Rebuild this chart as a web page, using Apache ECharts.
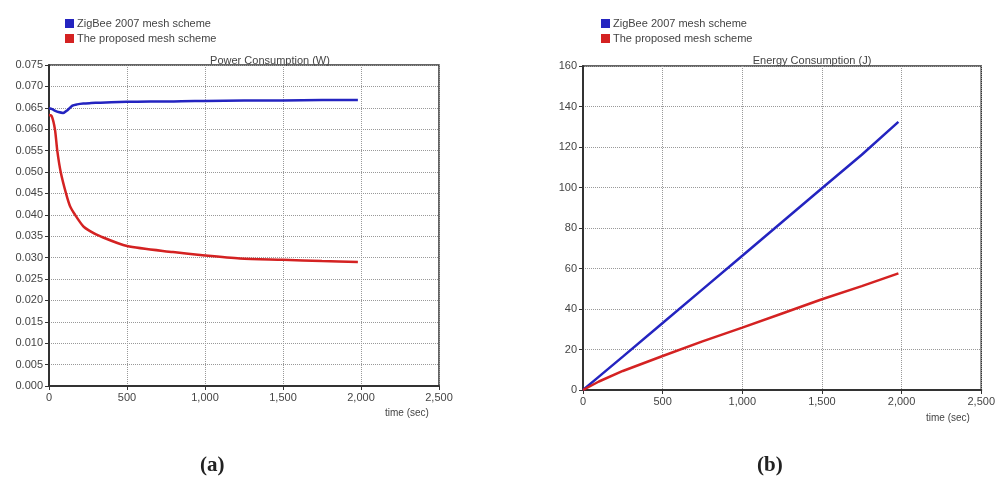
<!DOCTYPE html>
<html>
<head>
<meta charset="utf-8">
<title>Power and Energy Consumption</title>
<script src="https://cdn.jsdelivr.net/npm/echarts@6/dist/echarts.min.js"></script>
<style>
  html, body { margin: 0; padding: 0; background: #fff; }
  #chart { width: 998px; height: 489px; }
</style>
</head>
<body>
<div id="chart"></div>
<script>
// series names
var seriesNames = ['ZigBee 2007 mesh scheme', 'The proposed mesh scheme'];

// (a) power consumption (W) over time (sec)
var powerTimeZigbee = [0, 20, 40, 60, 90, 120, 150, 180, 220, 270, 330, 400, 500, 650, 800, 1000, 1250, 1500, 1750, 1980];
var powerZigbee = [0.0649, 0.0647, 0.0643, 0.0640, 0.0638, 0.0645, 0.0655, 0.0658, 0.0660, 0.0661, 0.0662, 0.0663, 0.0664, 0.0665, 0.0665, 0.0666, 0.0667, 0.0667, 0.0668, 0.0668];
var powerTimeProposed = [0, 17, 38, 53, 75, 109, 135, 167, 220, 263, 327, 500, 795, 1000, 1224, 1500, 1750, 1980];
var powerProposed = [0.0633, 0.0631, 0.0600, 0.0550, 0.0500, 0.0450, 0.0420, 0.0400, 0.0373, 0.0362, 0.0350, 0.0327, 0.0313, 0.0305, 0.0298, 0.0295, 0.0292, 0.0290];

// (b) energy consumption (J) over time (sec)
var energyTime = [0, 100, 250, 500, 750, 1000, 1250, 1500, 1750, 1980];
var energyZigbee = [0, 6.6, 16.5, 33.1, 49.7, 66.3, 83.0, 99.6, 116.2, 132.4];
var energyProposed = [0, 4.2, 9.4, 16.8, 24.0, 30.8, 37.8, 44.8, 51.3, 57.6];

function pairs(xs, ys) {
  return xs.map(function (x, i) { return [x, ys[i]]; });
}

var font = 'Liberation Sans';
var labelColor = '#444';
var blue = '#2424c0';
var red = '#d42222';

function xAxisFor(gridIndex) {
  return {
    type: 'value', gridIndex: gridIndex,
    min: 0, max: 2500, interval: 500,
    axisLine: { show: true, lineStyle: { color: '#333', width: 2 } },
    axisTick: { show: true, length: 4, lineStyle: { color: '#333' } },
    axisLabel: {
      color: labelColor, fontSize: 11, fontFamily: font, margin: 6,
      formatter: function (v) { return v.toLocaleString('en-US'); }
    },
    splitLine: { show: true, lineStyle: { color: '#999', type: 'dotted', width: 1 } }
  };
}

function yAxisFor(gridIndex, max, interval, digits) {
  return {
    type: 'value', gridIndex: gridIndex,
    min: 0, max: max, interval: interval,
    axisLine: { show: true, lineStyle: { color: '#333', width: 2 } },
    axisTick: { show: true, length: 4, lineStyle: { color: '#333' } },
    axisLabel: {
      color: labelColor, fontSize: 11, fontFamily: font, margin: 6,
      formatter: function (v) { return v.toFixed(digits); }
    },
    splitLine: { show: true, lineStyle: { color: '#999', type: 'dotted', width: 1 } }
  };
}

function lineSeries(name, data, color, xi, yi, smooth) {
  return {
    name: name, type: 'line', xAxisIndex: xi, yAxisIndex: yi,
    data: data, smooth: smooth, symbol: 'none',
    lineStyle: { color: color, width: 2.5 },
    itemStyle: { color: color }
  };
}

var chart = echarts.init(document.getElementById('chart'));

var option = {
  backgroundColor: '#fff',
  animation: false,
  title: [
    { text: 'Power Consumption (W)', left: 265, top: 50, textAlign: 'center',
      textStyle: { fontSize: 11, fontWeight: 'normal', color: labelColor, fontFamily: font } },
    { text: 'Energy Consumption (J)', left: 807, top: 50, textAlign: 'center',
      textStyle: { fontSize: 11, fontWeight: 'normal', color: labelColor, fontFamily: font } }
  ],
  legend: [
    { left: 60, top: 13, orient: 'vertical', itemGap: 4, itemWidth: 9, itemHeight: 9, icon: 'rect',
      data: seriesNames, selectedMode: false,
      textStyle: { fontSize: 11, color: labelColor, fontFamily: font, padding: [0, 0, 0, -2] } },
    { left: 596, top: 13, orient: 'vertical', itemGap: 4, itemWidth: 9, itemHeight: 9, icon: 'rect',
      data: seriesNames, selectedMode: false,
      textStyle: { fontSize: 11, color: labelColor, fontFamily: font, padding: [0, 0, 0, -2] } }
  ],
  grid: [
    { left: 49, top: 65, width: 390, height: 321, show: true, borderColor: '#333', borderWidth: 1.5 },
    { left: 583, top: 66, width: 399, height: 324, show: true, borderColor: '#333', borderWidth: 1.5 }
  ],
  xAxis: [xAxisFor(0), xAxisFor(1)],
  yAxis: [yAxisFor(0, 0.075, 0.005, 3), yAxisFor(1, 160, 20, 0)],
  series: [
    lineSeries(seriesNames[0], pairs(powerTimeZigbee, powerZigbee), blue, 0, 0, 0.25),
    lineSeries(seriesNames[1], pairs(powerTimeProposed, powerProposed), red, 0, 0, 0.25),
    lineSeries(seriesNames[0], pairs(energyTime, energyZigbee), blue, 1, 1, false),
    lineSeries(seriesNames[1], pairs(energyTime, energyProposed), red, 1, 1, false)
  ],
  graphic: [
    { type: 'text', left: 385, top: 408,
      style: { text: 'time (sec)', fontSize: 10, fill: labelColor, fontFamily: font } },
    { type: 'text', left: 926, top: 413,
      style: { text: 'time (sec)', fontSize: 10, fill: labelColor, fontFamily: font } },
    { type: 'text', left: 200, top: 455,
      style: { text: '(a)', fontSize: 21, fontWeight: 'bold', fill: '#222', fontFamily: 'Liberation Serif' } },
    { type: 'text', left: 757, top: 455,
      style: { text: '(b)', fontSize: 21, fontWeight: 'bold', fill: '#222', fontFamily: 'Liberation Serif' } }
  ]
};

chart.setOption(option);
</script>
</body>
</html>
